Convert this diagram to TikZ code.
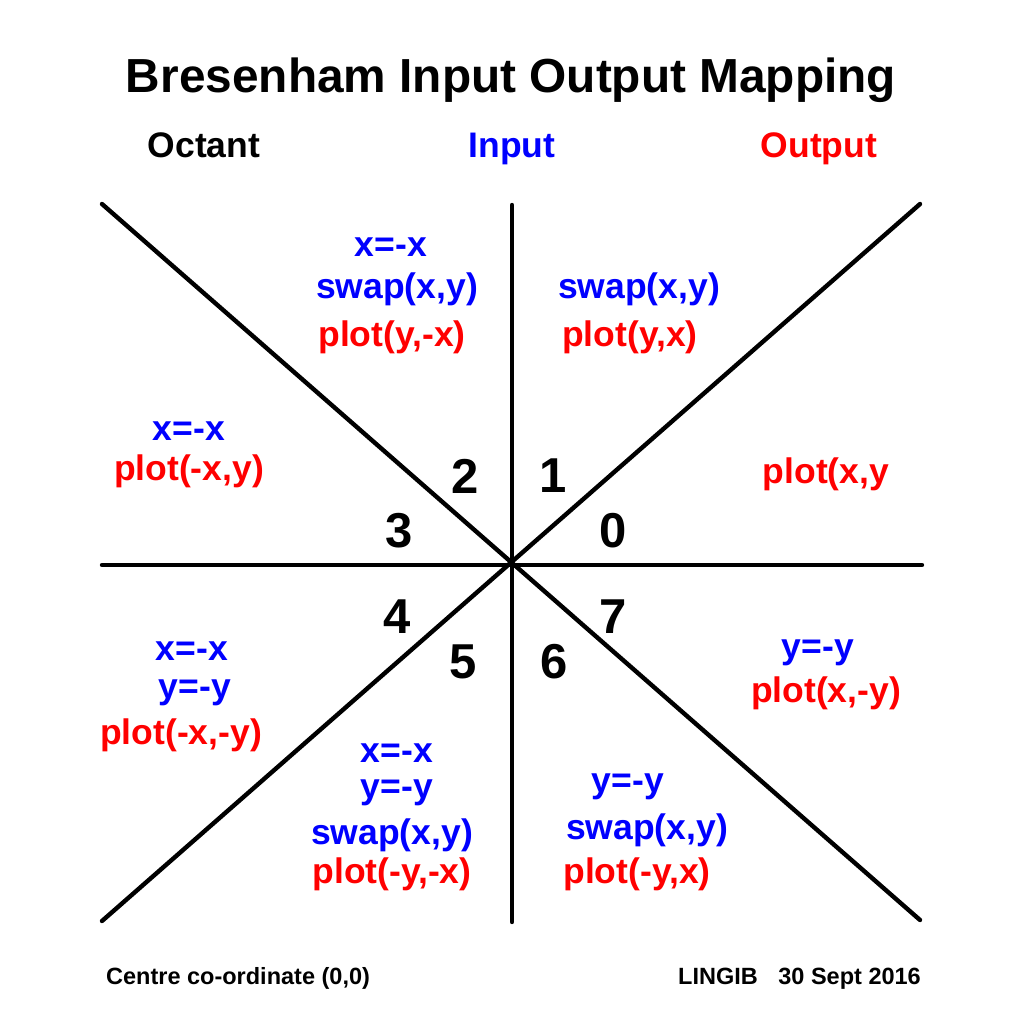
\documentclass[tikz,border=0pt]{standalone}
\usepackage{fontspec}
\setmainfont{Liberation Sans}
\definecolor{inblue}{RGB}{0,0,255}
\definecolor{outred}{RGB}{255,0,0}
\tikzset{
  axis/.style={line width=4.4pt, line cap=round, black},
  txt/.style={inner sep=0pt, font=\bfseries\fontsize{35.5}{40}\selectfont},
  inp/.style={txt, text=inblue},
  outp/.style={txt, text=outred},
  oct/.style={inner sep=0pt, font=\bfseries\fontsize{49}{52}\selectfont},
  head/.style={inner sep=0pt, anchor=base, font=\bfseries\fontsize{35.5}{40}\selectfont},
  foot/.style={inner sep=0pt, font=\bfseries\fontsize{23.5}{28}\selectfont},
}
\begin{document}
\begin{tikzpicture}[x=1pt,y=-1pt]
\useasboundingbox[fill=white] (0,0) rectangle (1024,1024);
% title and headings
\node[inner sep=0pt, anchor=base, font=\bfseries\fontsize{47.8}{54}\selectfont] (title) at (511,93) {Bresenham Input Output Mapping};
\node[head] (hoct) at (204,158) {Octant};
\node[head, text=inblue] (hin) at (512,158) {Input};
\node[head, text=outred] (hout) at (819,158) {Output};
% axes
\coordinate (c) at (512,565);
\coordinate (n) at (512,205);
\coordinate (s) at (512,922);
\coordinate (w) at (102,565);
\coordinate (e) at (922,565);
\coordinate (nw) at (102,204);
\coordinate (se) at (920,920);
\coordinate (ne) at (920,204);
\coordinate (sw) at (102,921);
\draw[axis] (n) -- (s);
\draw[axis] (w) -- (e);
\draw[axis] (nw) -- (se);
\draw[axis] (ne) -- (sw);
% octant numbers
\node[oct] (o0) at (613,531) {0};
\node[oct] (o1) at (553,476) {1};
\node[oct] (o2) at (465,476) {2};
\node[oct] (o3) at (399,531) {3};
\node[oct] (o4) at (397,617) {4};
\node[oct] (o5) at (463,662) {5};
\node[oct] (o6) at (554,662) {6};
\node[oct] (o7) at (613,617) {7};
% octant 2
\node[inp] (a2) at (391,247) {x=-x};
\node[inp] (b2) at (397,289) {swap(x,y)};
\node[outp] (p2) at (392,337) {plot(y,-x)};
% octant 1
\node[inp] (b1) at (639,289) {swap(x,y)};
\node[outp] (p1) at (630,337) {plot(y,x)};
% octant 3
\node[inp] (a3) at (189,431) {x=-x};
\node[outp] (p3) at (189,471) {plot(-x,y)};
% octant 0
\node[outp] (p0) at (826,474) {plot(x,y};
% octant 4
\node[inp] (a4) at (192,651) {x=-x};
\node[inp] (b4) at (195,693) {y=-y};
\node[outp] (p4) at (181,735) {plot(-x,-y)};
% octant 7
\node[inp] (a7) at (818,653) {y=-y};
\node[outp] (p7) at (826,693) {plot(x,-y)};
% octant 5
\node[inp] (a5) at (397,753) {x=-x};
\node[inp] (b5) at (397,793) {y=-y};
\node[inp] (c5) at (392,835) {swap(x,y)};
\node[outp] (p5) at (392,874) {plot(-y,-x)};
% octant 6
\node[inp] (a6) at (628,787) {y=-y};
\node[inp] (b6) at (647,830) {swap(x,y)};
\node[outp] (p6) at (637,874) {plot(-y,x)};
% footer
\node[foot, anchor=base west] (f1) at (106,984) {Centre co-ordinate (0,0)};
\node[foot, anchor=base east] (f2) at (921,984) {LINGIB\hspace{0.6em} 30 Sept 2016};
\end{tikzpicture}
\end{document}
